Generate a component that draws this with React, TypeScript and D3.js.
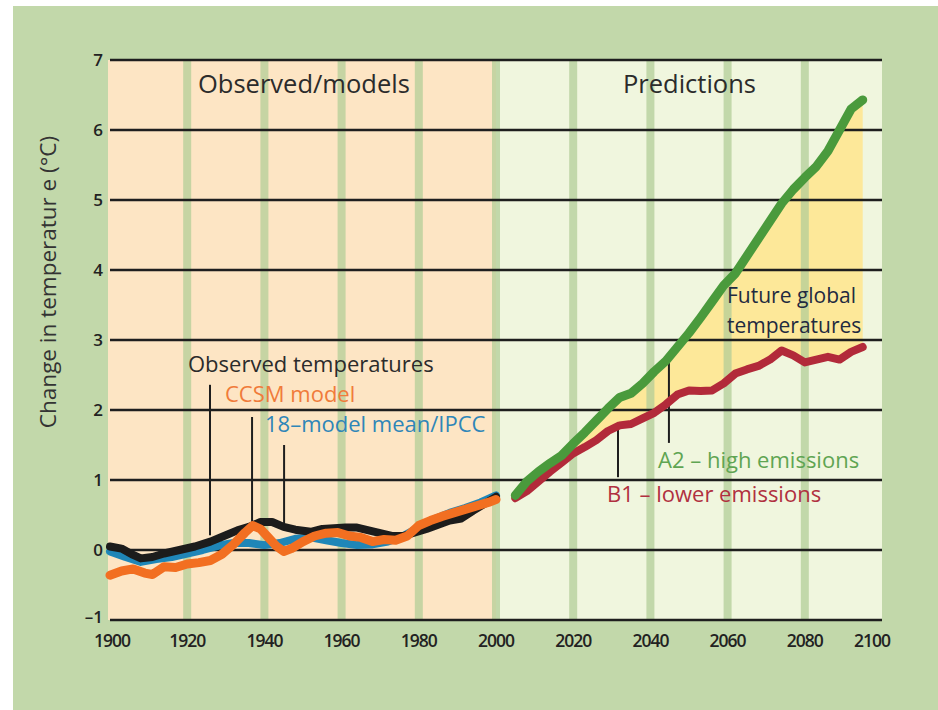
import React, { useEffect, useRef } from 'react';
import * as d3 from 'd3';

// observed / model series, [year, change in °C]
const observed: [number, number][] = [
  [1900, 0.05], [1903, 0.02], [1906, -0.07], [1908, -0.12], [1911, -0.1], [1914, -0.05],
  [1918, 0.0], [1922, 0.05], [1926, 0.12], [1930, 0.21], [1933, 0.28], [1936, 0.33],
  [1939, 0.4], [1942, 0.4], [1945, 0.33], [1948, 0.29], [1952, 0.26], [1955, 0.3],
  [1958, 0.31], [1961, 0.32], [1964, 0.32], [1967, 0.28], [1970, 0.24], [1973, 0.2],
  [1976, 0.2], [1979, 0.25], [1982, 0.3], [1985, 0.36], [1988, 0.42], [1991, 0.45],
  [1994, 0.56], [1997, 0.66], [2000, 0.76],
];

const modelMean: [number, number][] = [
  [1900, -0.02], [1904, -0.1], [1908, -0.17], [1912, -0.13], [1916, -0.1], [1920, -0.05],
  [1924, 0.0], [1928, 0.06], [1932, 0.1], [1936, 0.1], [1940, 0.07], [1944, 0.1],
  [1948, 0.16], [1952, 0.18], [1956, 0.14], [1960, 0.1], [1964, 0.07], [1968, 0.08],
  [1972, 0.12], [1976, 0.2], [1980, 0.32], [1984, 0.44], [1988, 0.53], [1992, 0.6],
  [1996, 0.68], [2000, 0.78],
];

const ccsm: [number, number][] = [
  [1900, -0.36], [1903, -0.3], [1906, -0.27], [1909, -0.33], [1911, -0.35], [1914, -0.24],
  [1917, -0.25], [1920, -0.2], [1923, -0.18], [1926, -0.15], [1929, -0.06], [1932, 0.08],
  [1935, 0.25], [1937, 0.35], [1939, 0.3], [1941, 0.18], [1943, 0.06], [1945, -0.02],
  [1947, 0.02], [1950, 0.12], [1953, 0.2], [1956, 0.24], [1959, 0.25], [1962, 0.2],
  [1965, 0.18], [1968, 0.12], [1971, 0.15], [1974, 0.14], [1977, 0.2], [1980, 0.35],
  [1983, 0.42], [1986, 0.48], [1989, 0.53], [1992, 0.58], [1995, 0.63], [1998, 0.68],
  [2000, 0.72],
];

// predictions
const futureYears = [
  2005, 2008, 2011, 2014, 2017, 2020, 2023, 2026, 2029, 2032, 2035, 2038, 2041, 2044, 2047, 2050,
  2053, 2056, 2059, 2062, 2065, 2068, 2071, 2074, 2077, 2080, 2083, 2086, 2089, 2092, 2095,
];
const a2Temps = [
  0.78, 0.98, 1.12, 1.24, 1.35, 1.52, 1.68, 1.85, 2.02, 2.18, 2.24, 2.38, 2.55, 2.7, 2.9, 3.1,
  3.32, 3.55, 3.78, 3.95, 4.2, 4.45, 4.7, 4.95, 5.15, 5.32, 5.48, 5.7, 6.0, 6.3, 6.43,
];
const b1Temps = [
  0.74, 0.84, 0.98, 1.12, 1.25, 1.38, 1.47, 1.57, 1.7, 1.78, 1.8, 1.88, 1.96, 2.08, 2.22, 2.28,
  2.27, 2.28, 2.38, 2.52, 2.58, 2.63, 2.72, 2.85, 2.78, 2.68, 2.72, 2.76, 2.72, 2.83, 2.9,
];

const yearTicks = [1900, 1920, 1940, 1960, 1980, 2000, 2020, 2040, 2060, 2080, 2100];
const tempTicks = [-1, 0, 1, 2, 3, 4, 5, 6, 7];
const stripeYears = [1920, 1940, 1960, 1980, 2000, 2020, 2040, 2060, 2080];

// pointer lines: [year, from value, to value]
const pointers: [number, number, number][] = [
  [1925.9, 2.36, 0.21],
  [1936.8, 1.9, 0.29],
  [1945.1, 1.5, 0.31],
  [2031.6, 1.74, 1.04],
  [2044.8, 2.76, 1.53],
];

const FONT = '"Open Sans", "Noto Sans", sans-serif';

const App = () => {
  const svgRef = useRef<SVGSVGElement | null>(null);

  useEffect(() => {
    if (!svgRef.current) return;
    const svg = d3.select(svgRef.current);
    svg.selectAll('*').remove();

    const x = d3.scaleLinear().domain([1900, 2100]).range([110, 882]);
    const y = d3.scaleLinear().domain([-1, 7]).range([620, 60]);

    // panel background
    svg.append('rect')
      .attr('x', 13).attr('y', 6).attr('width', 925).attr('height', 704)
      .attr('fill', '#c2d8aa');

    // two eras
    svg.append('rect')
      .attr('x', x(1900) - 2).attr('y', y(7))
      .attr('width', x(2000) - x(1900) + 2).attr('height', y(-1) - y(7))
      .attr('fill', '#fde5c4');
    svg.append('rect')
      .attr('x', x(2000)).attr('y', y(7))
      .attr('width', x(2100) - x(2000)).attr('height', y(-1) - y(7))
      .attr('fill', '#f0f6de');

    // gap between scenarios
    const gap = d3.area<number>()
      .x((d) => x(d))
      .y0((_, i) => y(b1Temps[i]))
      .y1((_, i) => y(a2Temps[i]));
    svg.append('path')
      .datum(futureYears)
      .attr('d', gap)
      .attr('fill', '#fde899');

    // vertical stripes
    svg.append('g')
      .selectAll('rect')
      .data(stripeYears)
      .join('rect')
      .attr('x', (d) => x(d) - 4)
      .attr('y', y(7))
      .attr('width', 8)
      .attr('height', y(-1) - y(7))
      .attr('fill', '#b3cd98')
      .attr('opacity', 0.75);

    // horizontal gridlines
    svg.append('g')
      .selectAll('line')
      .data(tempTicks)
      .join('line')
      .attr('x1', x(1900)).attr('x2', x(2100))
      .attr('y1', (d) => y(d)).attr('y2', (d) => y(d))
      .attr('stroke', '#1e1e1e')
      .attr('stroke-width', 2.5);

    // tick labels
    svg.append('g')
      .selectAll('text')
      .data(tempTicks)
      .join('text')
      .attr('x', 103)
      .attr('y', (d) => y(d) + (d < 0 ? 3 : 6))
      .attr('text-anchor', 'end')
      .attr('font-family', FONT)
      .attr('font-weight', 600)
      .attr('font-size', 17)
      .attr('fill', '#222')
      .text((d) => (d < 0 ? `\u2013${Math.abs(d)}` : `${d}`));

    svg.append('g')
      .selectAll('text')
      .data(yearTicks)
      .join('text')
      .attr('x', (d) => (d === 2100 ? x(d) - 10 : d === 1900 ? x(d) + 2 : x(d)))
      .attr('y', 647)
      .attr('text-anchor', 'middle')
      .attr('font-family', FONT)
      .attr('font-weight', 600)
      .attr('font-size', 17.5)
      .attr('letter-spacing', -1)
      .attr('fill', '#222')
      .text((d) => `${d}`);

    // axis title
    svg.append('text')
      .attr('transform', `translate(56, 282) rotate(-90)`)
      .attr('text-anchor', 'middle')
      .attr('font-family', FONT)
      .attr('font-size', 22.5)
      .attr('fill', '#333')
      .text('Change in temperatur e (°C)');

    // pointer lines
    svg.append('g')
      .selectAll('line')
      .data(pointers)
      .join('line')
      .attr('x1', (d) => x(d[0])).attr('x2', (d) => x(d[0]))
      .attr('y1', (d) => y(d[1])).attr('y2', (d) => y(d[2]))
      .attr('stroke', '#1e1e1e')
      .attr('stroke-width', 2);

    // series
    const line = d3.line<[number, number]>()
      .x((d) => x(d[0]))
      .y((d) => y(d[1]));
    const drawSeries = (data: [number, number][], color: string, width: number) => {
      svg.append('path')
        .datum(data)
        .attr('d', line)
        .attr('fill', 'none')
        .attr('stroke', color)
        .attr('stroke-width', width)
        .attr('stroke-linejoin', 'round')
        .attr('stroke-linecap', 'round');
    };
    drawSeries(modelMean, '#1f86b8', 8);
    drawSeries(observed, '#1c1c1c', 8);
    drawSeries(ccsm, '#f26f21', 9);
    drawSeries(futureYears.map((yr, i) => [yr, b1Temps[i]] as [number, number]), '#b22a3a', 8);
    drawSeries(futureYears.map((yr, i) => [yr, a2Temps[i]] as [number, number]), '#4a9a3c', 9);

    // labels
    const label = (tx: number, ty: number, text: string, color: string, size: number) => {
      svg.append('text')
        .attr('x', tx).attr('y', ty)
        .attr('font-family', FONT)
        .attr('font-size', size)
        .attr('fill', color)
        .text(text);
    };
    label(198, 93, 'Observed/models', '#2b2b2b', 25.5);
    label(623, 93, 'Predictions', '#2b2b2b', 25.5);
    label(188, 372, 'Observed temperatures', '#2b2b2b', 22);
    label(225, 402, 'CCSM model', '#f07b3a', 22);
    label(265, 432, '18\u2013model mean/IPCC', '#2f86b8', 22);
    label(727, 303, 'Future global', '#1f2a40', 21);
    label(727, 333, 'temperatures', '#1f2a40', 21);
    label(658, 468, 'A2 \u2013 high emissions', '#5fa552', 22);
    label(607, 502, 'B1 \u2013 lower emissions', '#b03040', 22);
  }, []);

  return (
    <svg
      ref={svgRef}
      width={938}
      height={710}
      style={{ position: 'absolute', left: 0, top: 0, background: '#fff' }}
    />
  );
};

export default App;
